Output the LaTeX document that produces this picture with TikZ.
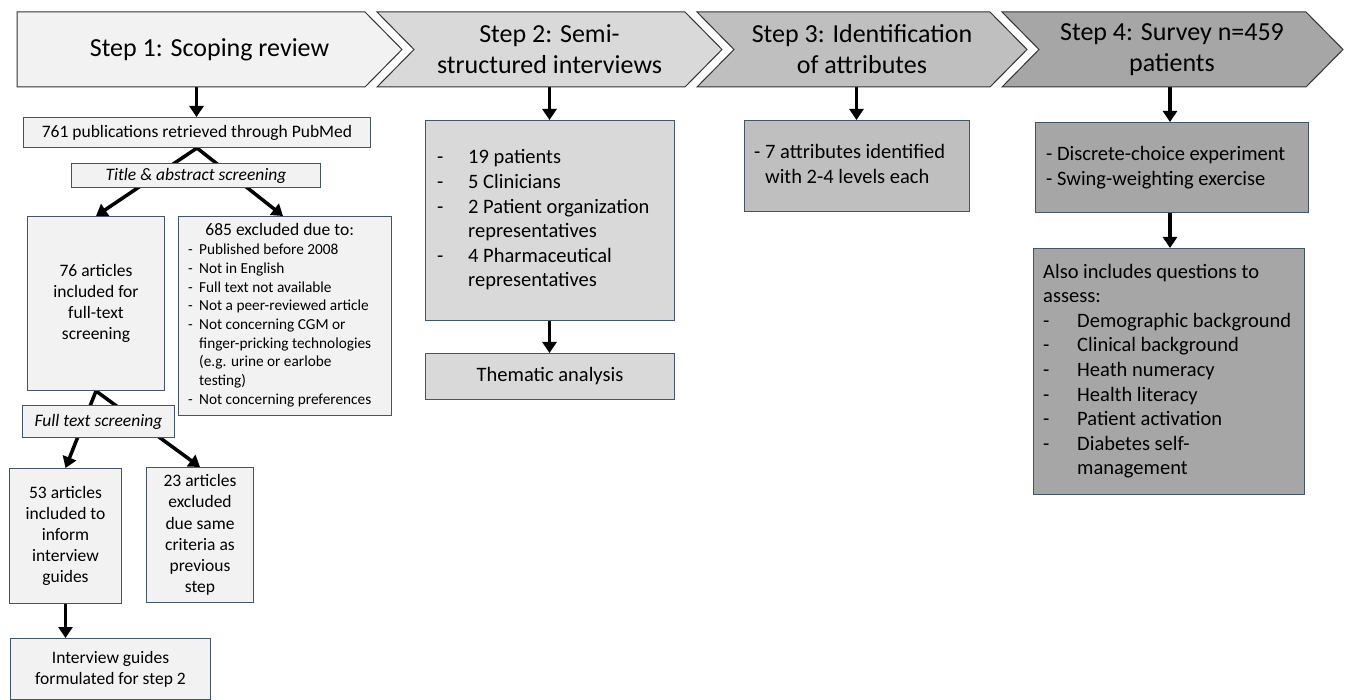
\documentclass[tikz,border=0pt]{standalone}
\usepackage{fontspec}
\setmainfont{Carlito}
\usetikzlibrary{arrows.meta}
\definecolor{g1}{HTML}{F2F2F2}
\definecolor{g2}{HTML}{D9D9D9}
\definecolor{g3}{HTML}{BFBFBF}
\definecolor{g4}{HTML}{A6A6A6}
\definecolor{bcol}{HTML}{44546A}
\newcommand\fH{\fontsize{26}{31}\selectfont}
\newcommand\fA{\fontsize{17.5}{21.2}\selectfont}
\newcommand\fB{\fontsize{15.3}{18.7}\selectfont}
\newcommand\fC{\fontsize{20.5}{24.6}\selectfont}
\pgfdeclarelayer{bg}
\pgfsetlayers{bg,main}
\begin{document}
\begin{tikzpicture}[x=1pt,y=-1pt,
  hdr/.style={draw=black!80, line width=1pt},
  htext/.style={font=\fH, align=center, text=black},
  bx/.style={draw=bcol, line width=1pt, rectangle, anchor=north west, inner sep=2pt, align=center, text=black},
  arr/.style={line width=3.5pt, -{Triangle[width=14pt,length=11pt]}, black}]
\begin{pgfonlayer}{bg}
\fill[white] (0,0) rectangle (1346,700);
\end{pgfonlayer}
\useasboundingbox (0,0) rectangle (1346,700);

% header chevrons
\draw[hdr, fill=g1] (17,12) -- (365,12) -- (402,49.5) -- (365,87) -- (17,87) -- cycle;
\draw[hdr, fill=g2] (377,12) -- (685,12) -- (722,49.5) -- (685,87) -- (377,87) -- (414,49.5) -- cycle;
\draw[hdr, fill=g3] (697,12) -- (990,12) -- (1027,49.5) -- (990,87) -- (697,87) -- (734,49.5) -- cycle;
\draw[hdr, fill=g4] (1002,12) -- (1306,12) -- (1343,49.5) -- (1306,87) -- (1002,87) -- (1039,49.5) -- cycle;
\node[htext] (h1) at (209.5,50) {Step 1: Scoping review};
\node[htext] (h2) at (549.5,49.5) {Step 2: Semi-\\structured interviews};
\node[htext] (h3) at (862,49.5) {Step 3: Identification\\of attributes};
\node[htext] (h4) at (1172,50) {Step 4: Survey n=459\\patients};
\coordinate (h1b) at (196.5,87);
\coordinate (h2b) at (549.5,87);
\coordinate (h3b) at (856.5,87);
\coordinate (h4b) at (1170,87);

% column 1
\node[bx, fill=g1, minimum width=347, minimum height=30, font=\fA] (b761) at (23,117) {761 publications retrieved through PubMed};
\node[bx, fill=g1, minimum width=249, minimum height=24, font=\fA\itshape] (bta) at (71,163) {Title \& abstract screening};
\node[bx, fill=g1, minimum width=137, minimum height=174, font=\fA] (b76) at (27,216) {76 articles\\included for\\full-text\\screening};
\node[bx, fill=g1, minimum width=213, minimum height=199] (b685) at (178,216) {};
\node[anchor=west, inner sep=0pt, font=\fB, text=black] (t685) at ([xshift=10pt]b685.west) {\begin{tabular}{@{}p{11pt}@{}l@{}}
\multicolumn{2}{@{}c@{}}{\fA 685 excluded due to:}\\[1pt]
- & Published before 2008\\
- & Not in English\\
- & Full text not available\\
- & Not a peer-reviewed article\\
- & Not concerning CGM or\\
  & finger-pricking technologies\\
  & (e.g. urine or earlobe\\
  & testing)\\
- & Not concerning preferences
\end{tabular}};
\node[bx, fill=g1, minimum width=152, minimum height=32, font=\fA\itshape] (bft) at (22,405) {Full text screening};
\node[bx, fill=g1, minimum width=112, minimum height=135, font=\fA] (b53) at (9,468) {53 articles\\included to\\inform\\interview\\guides};
\node[bx, fill=g1, minimum width=107, minimum height=135, font=\fA] (b23) at (146,467) {23 articles\\excluded\\due same\\criteria as\\previous\\step};
\node[bx, fill=g1, minimum width=200, minimum height=61, font=\fA] (bint) at (10,638) {Interview guides\\formulated for step 2};

% column 2
\node[bx, fill=g2, minimum width=249, minimum height=200] (bs2) at (425,120) {};
\node[anchor=west, inner sep=0pt, font=\fC, text=black] (ts2) at ([xshift=12pt]bs2.west) {\begin{tabular}{@{}p{31pt}@{}l@{}}
- & 19 patients\\
- & 5 Clinicians\\
- & 2 Patient organization\\
  & representatives\\
- & 4 Pharmaceutical\\
  & representatives
\end{tabular}};
\node[bx, fill=g2, minimum width=249, minimum height=46, font=\fC] (bth) at (425,353) {Thematic analysis};

% column 3
\node[bx, fill=g3, minimum width=225, minimum height=91] (bs3) at (744,120) {};
\node[anchor=west, inner sep=0pt, font=\fC, text=black] (ts3) at ([xshift=10pt]bs3.west) {\begin{tabular}{@{}l@{}l@{}}
\mbox{-\ } & 7 attributes identified\\
  & with 2-4 levels each
\end{tabular}};

% column 4
\node[bx, fill=g4, minimum width=273, minimum height=90] (bs4) at (1035,122) {};
\node[anchor=west, inner sep=0pt, font=\fC, text=black, align=left] (ts4) at ([xshift=11pt]bs4.west) {- Discrete-choice experiment\\- Swing-weighting exercise};
\node[bx, fill=g4, minimum width=271, minimum height=246] (bal) at (1033,248) {};
\node[anchor=west, inner sep=0pt, font=\fC, text=black] (tal) at ([xshift=10pt]bal.west) {\begin{tabular}{@{}p{34pt}@{}l@{}}
\multicolumn{2}{@{}l@{}}{Also includes questions to}\\
\multicolumn{2}{@{}l@{}}{assess:}\\
- & Demographic background\\
- & Clinical background\\
- & Heath numeracy\\
- & Health literacy\\
- & Patient activation\\
- & Diabetes self-\\
  & management
\end{tabular}};

% connectors
\begin{pgfonlayer}{bg}
\draw[arr] (h1b) -- (h1b |- b761.north);
\draw[arr] (b761.south) -- (b76.north);
\draw[arr] (b761.south) -- ([xshift=-2pt]b685.north);
\draw[arr] (b76.south) -- (b53.north);
\draw[arr] (b76.south) -- (b23.north);
\draw[arr] (b53.south) -- (b53.south |- bint.north);
\draw[arr] (h2b) -- (h2b |- bs2.north);
\draw[arr] (h2b |- bs2.south) -- (h2b |- bth.north);
\draw[arr] (h3b) -- (h3b |- bs3.north);
\draw[arr] (h4b) -- (h4b |- bs4.north);
\draw[arr] (h4b |- bs4.south) -- (h4b |- bal.north);
\end{pgfonlayer}
\end{tikzpicture}
\end{document}
